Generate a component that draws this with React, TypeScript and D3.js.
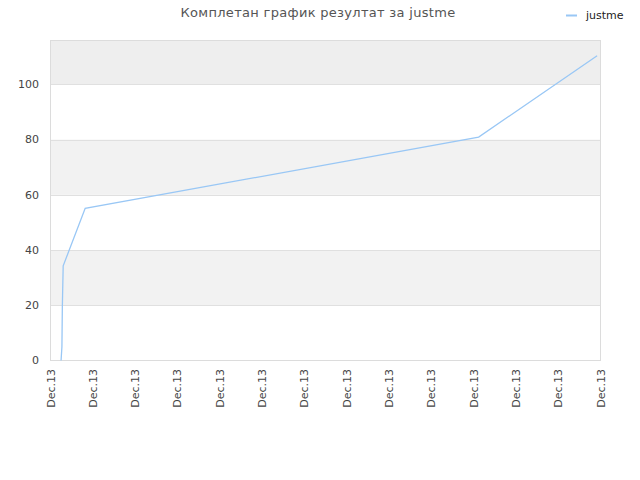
import * as d3 from "d3";

const title = "Комплетан график резултат за justme";
const seriesName = "justme";
// x in tick units (0..13), y values
const xs = [0.25, 0.27, 0.28, 0.3, 0.82, 10.12, 12.92];
const ys = [0, 5, 19.5, 34.3, 55.1, 80.9, 110.4];
const xTickLabels = Array.from({ length: 14 }, () => "Dec.13");
const yTicks = [0, 20, 40, 60, 80, 100];

const W = 640;
const H = 480;
const left = 50.5;
const right = 600.5;
const top = 40.5;
const bottom = 360.5;
const lineColor = "#99c7f5";
const font = "DejaVu Sans, sans-serif";

export default function App() {
  const x = d3.scaleLinear().domain([0, 13]).range([left, right]);
  const y = d3.scaleLinear().domain([0, 115.9]).range([bottom, top]);

  const line = d3
    .line<number>()
    .x((_, i) => x(xs[i]))
    .y((d) => y(d));

  // alternating bands between gridlines
  const bands = [20, 60, 100].map((v) => ({
    y0: y(Math.min(v + 20, 115.9)),
    y1: y(v),
    top: v === 100,
  }));

  return (
    <svg
      width={W}
      height={H}
      style={{ position: "absolute", left: 0, top: 0, background: "#fff" }}
      fontFamily={font}
    >
      {bands.map((b, i) => (
        <rect
          key={i}
          x={left}
          y={b.y0}
          width={right - left}
          height={b.y1 - b.y0}
          fill={b.top ? "#eeeeee" : "#f2f2f2"}
        />
      ))}
      {yTicks.slice(1).map((t) => (
        <line
          key={t}
          x1={left}
          x2={right}
          y1={Math.round(y(t)) + 0.5}
          y2={Math.round(y(t)) + 0.5}
          stroke="#e0e0e0"
        />
      ))}
      <rect
        x={left}
        y={top}
        width={right - left}
        height={bottom - top}
        fill="none"
        stroke="#dcdcdc"
      />
      {yTicks.map((t) => (
        <text
          key={t}
          x={39}
          y={y(t)}
          dy="0.35em"
          textAnchor="end"
          fontSize={11}
          fill="#444"
        >
          {t}
        </text>
      ))}
      {xTickLabels.map((lab, i) => (
        <text
          key={i}
          transform={`translate(${x(i) + 4},${369}) rotate(-90)`}
          textAnchor="end"
          fontSize={11}
          fill="#444"
        >
          {lab}
        </text>
      ))}
      <path d={line(ys) ?? ""} fill="none" stroke={lineColor} strokeWidth={1.3} />
      <text x={318} y={17} textAnchor="middle" fontSize={13} fill="#555" letterSpacing={0.3}>
        {title}
      </text>
      <line x1={566} x2={577} y1={15.5} y2={15.5} stroke={lineColor} strokeWidth={2} />
      <text x={586} y={19} fontSize={11} fill="#222">
        {seriesName}
      </text>
    </svg>
  );
}
